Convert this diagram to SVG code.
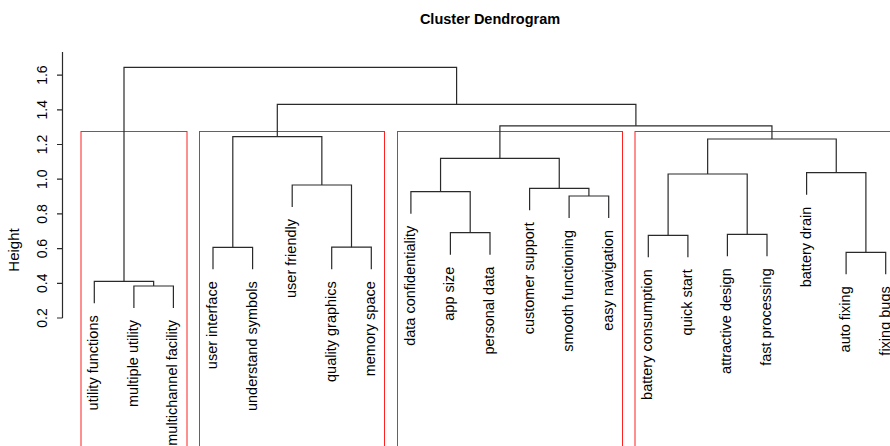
<svg xmlns="http://www.w3.org/2000/svg" width="890" height="446" viewBox="0 0 890 446">
<style>
text{font-family:"Liberation Sans",Arial,sans-serif;fill:#000}
.lab{font-size:14.5px;text-anchor:end}
.tick{font-size:14px;text-anchor:middle}
.title{font-size:14.5px;font-weight:bold;text-anchor:middle}
.tree path{fill:none;stroke:#2a2a2a;stroke-width:1.2}
.axis path{fill:none;stroke:#2a2a2a;stroke-width:1.2}
.box{fill:none;stroke:#ff2020;stroke-width:1}
</style>
<rect width="890" height="446" fill="#fff"/>
<text class="title" x="490" y="24">Cluster Dendrogram</text>
<g id="axis" class="axis">
<path d="M62.5 52V318M57 318H62.5M57 283.3H62.5M57 248.6H62.5M57 213.9H62.5M57 179.2H62.5M57 144.5H62.5M57 109.8H62.5M57 75.1H62.5"/>
<text class="tick" transform="translate(46.5,318) rotate(-90)">0.2</text>
<text class="tick" transform="translate(46.5,283.3) rotate(-90)">0.4</text>
<text class="tick" transform="translate(46.5,248.6) rotate(-90)">0.6</text>
<text class="tick" transform="translate(46.5,213.9) rotate(-90)">0.8</text>
<text class="tick" transform="translate(46.5,179.2) rotate(-90)">1.0</text>
<text class="tick" transform="translate(46.5,144.5) rotate(-90)">1.2</text>
<text class="tick" transform="translate(46.5,109.8) rotate(-90)">1.4</text>
<text class="tick" transform="translate(46.5,75.1) rotate(-90)">1.6</text>
<text style="font-size:15px;text-anchor:middle" transform="translate(18.5,250) rotate(-90)">Height</text>
</g>
<g id="clusters">
<rect class="box" x="81" y="131.5" width="106" height="330"/>
<rect class="box" x="199.5" y="131.5" width="185" height="330"/>
<rect class="box" x="397.5" y="131.5" width="225" height="330"/>
<rect class="box" x="635" y="131.5" width="270" height="330"/>
</g>
<g id="connectors" class="tree">
<path d="M133.9 308V286H173.4V308"/>
<path d="M94.3 303.3V281.3H153.65V286"/>
<path d="M213 269.3V247.3H252.6V269.3"/>
<path d="M331.7 269.2V247.2H371.3V269.2"/>
<path d="M292.2 207V185H351.5V247.2"/>
<path d="M232.8 247.3V136.7H321.85V185"/>
<path d="M450.4 254.7V232.7H490V254.7"/>
<path d="M410.9 213.7V191.7H470.2V232.7"/>
<path d="M569.1 218V196H608.7V218"/>
<path d="M529.6 210.3V188.3H588.9V196"/>
<path d="M440.55 191.7V158.3H559.25V188.3"/>
<path d="M648.3 257.3V235.3H687.9V257.3"/>
<path d="M727.4 256.3V234.3H767V256.3"/>
<path d="M668.1 235.3V174H747.2V234.3"/>
<path d="M846.1 274.3V252.3H885.7V274.3"/>
<path d="M806.6 194.7V172.7H865.9V252.3"/>
<path d="M707.65 174V139H836.25V172.7"/>
<path d="M499.9 158.3V125.8H771.95V139"/>
<path d="M277.3 136.7V104.3H635.9V125.8"/>
<path d="M124 281.3V67.3H456.6V104.3"/>
</g>
<g id="leaf-utility-functions"><text class="lab" transform="translate(98.3,315.3) rotate(-90)">utility functions</text></g>
<g id="leaf-multiple-utility"><text class="lab" transform="translate(137.9,320) rotate(-90)">multiple utility</text></g>
<g id="leaf-multichannel-facility"><text class="lab" transform="translate(177.4,320) rotate(-90)">multichannel facility</text></g>
<g id="leaf-user-interface"><text class="lab" transform="translate(217,281.3) rotate(-90)">user interface</text></g>
<g id="leaf-understand-symbols"><text class="lab" transform="translate(256.6,281.3) rotate(-90)">understand symbols</text></g>
<g id="leaf-user-friendly"><text class="lab" transform="translate(296.2,219) rotate(-90)">user friendly</text></g>
<g id="leaf-quality-graphics"><text class="lab" transform="translate(335.7,281.2) rotate(-90)">quality graphics</text></g>
<g id="leaf-memory-space"><text class="lab" transform="translate(375.3,281.2) rotate(-90)">memory space</text></g>
<g id="leaf-data-confidentiality"><text class="lab" transform="translate(414.9,225.7) rotate(-90)">data confidentiality</text></g>
<g id="leaf-app-size"><text class="lab" transform="translate(454.4,266.7) rotate(-90)">app size</text></g>
<g id="leaf-personal-data"><text class="lab" transform="translate(494,266.7) rotate(-90)">personal data</text></g>
<g id="leaf-customer-support"><text class="lab" transform="translate(533.6,222.3) rotate(-90)">customer support</text></g>
<g id="leaf-smooth-functioning"><text class="lab" transform="translate(573.1,230) rotate(-90)">smooth functioning</text></g>
<g id="leaf-easy-navigation"><text class="lab" transform="translate(612.7,230) rotate(-90)">easy navigation</text></g>
<g id="leaf-battery-consumption"><text class="lab" transform="translate(652.3,269.3) rotate(-90)">battery consumption</text></g>
<g id="leaf-quick-start"><text class="lab" transform="translate(691.9,269.3) rotate(-90)">quick start</text></g>
<g id="leaf-attractive-design"><text class="lab" transform="translate(731.4,268.3) rotate(-90)">attractive design</text></g>
<g id="leaf-fast-processing"><text class="lab" transform="translate(771,268.3) rotate(-90)">fast processing</text></g>
<g id="leaf-battery-drain"><text class="lab" transform="translate(810.6,206.7) rotate(-90)">battery drain</text></g>
<g id="leaf-auto-fixing"><text class="lab" transform="translate(850.1,286.3) rotate(-90)">auto fixing</text></g>
<g id="leaf-fixing-bugs"><text class="lab" transform="translate(889.7,286.3) rotate(-90)">fixing bugs</text></g>
</svg>
